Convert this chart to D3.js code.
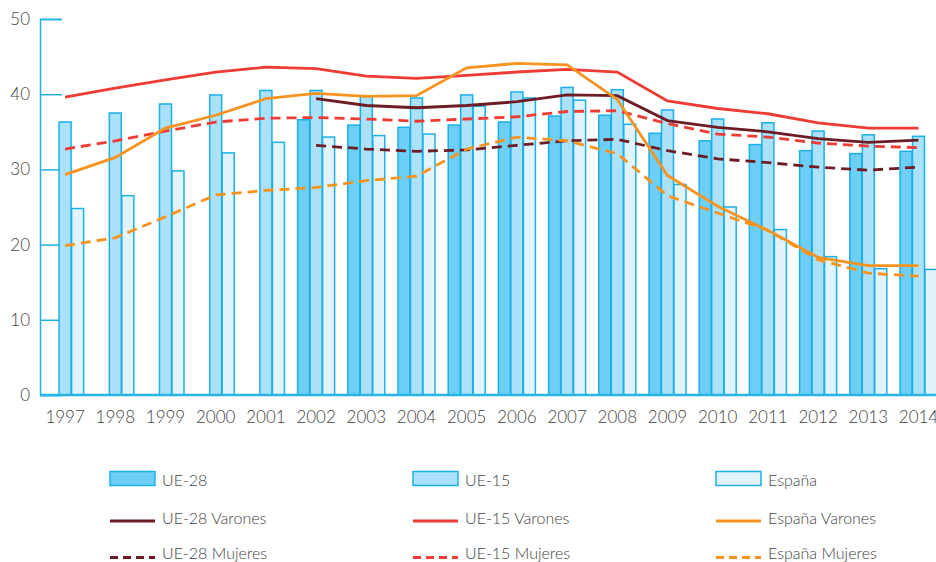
<!DOCTYPE html>
<html><head><meta charset="utf-8">
<script src="https://cdn.jsdelivr.net/npm/d3@7"></script>
<style>body{margin:0;background:#fff}svg{display:block}text{font-family:Lato,"Open Sans",sans-serif;fill:#444}</style>
</head><body><svg id="c" width="936" height="562"></svg>
<script>
const years = ["1997","1998","1999","2000","2001","2002","2003","2004","2005","2006","2007","2008","2009","2010","2011","2012","2013","2014"];
const barSeries = ["UE-28","UE-15","España"];
const ue28 = [null,null,null,null,null,36.6,35.9,35.6,35.9,36.3,37.1,37.2,34.8,33.8,33.3,32.5,32.1,32.4];
const ue15 = [36.3,37.5,38.7,39.9,40.5,40.5,39.8,39.5,39.9,40.3,40.9,40.6,37.9,36.7,36.2,35.1,34.6,34.4];
const espana = [24.8,26.5,29.8,32.2,33.6,34.3,34.5,34.7,38.4,39.5,39.2,36.0,28.0,25.0,22.0,18.4,16.8,16.7];
const ue28Varones = [null,null,null,null,null,39.4,38.5,38.2,38.5,39.0,39.9,39.8,36.5,35.6,35.0,34.1,33.6,33.9];
const ue15Varones = [39.6,40.8,41.9,42.95,43.6,43.4,42.4,42.1,42.5,42.95,43.3,42.95,39.1,38.1,37.4,36.2,35.5,35.5];
const espanaVarones = [29.3,31.6,35.5,37.2,39.4,40.1,39.7,39.8,43.5,44.1,43.9,39.3,29.2,25.1,21.9,18.3,17.2,17.2];
const ue28Mujeres = [null,null,null,null,null,33.2,32.7,32.4,32.6,33.2,33.8,34.0,32.5,31.4,30.9,30.3,29.9,30.3];
const ue15Mujeres = [32.7,33.8,35.1,36.3,36.8,36.9,36.7,36.4,36.7,37.0,37.7,37.8,36.1,34.7,34.3,33.5,33.1,32.9];
const espanaMujeres = [19.85,20.9,23.7,26.6,27.2,27.6,28.5,29.1,32.7,34.3,33.8,32.1,26.5,24.2,21.9,18.0,16.2,15.8];
const yTicks = [0,10,20,30,40,50];

const svg = d3.select("#c");
const step = 50.2, x0 = 40;
const x = d3.scaleBand().domain(years).range([x0, x0 + step*years.length]).padding(0);
const y = d3.scaleLinear().domain([0,50]).range([395,19]);
const xs = d3.scaleBand().domain(barSeries).range([-19, 19]).padding(0.04);

const barFill = {"UE-28":"#6dcff6","UE-15":"#abe1fa","España":"#e1f4fd"};
const barData = {"UE-28":ue28,"UE-15":ue15,"España":espana};
const stroke = "#1cb0e8";

// y axis
const yAxis = d3.axisRight(y).tickValues(yTicks).tickSize(22).tickFormat("");
const ga = svg.append("g").attr("transform",`translate(${x0},0)`).call(yAxis);
ga.select(".domain").attr("stroke",stroke).attr("stroke-width",1.5);
ga.selectAll(".tick line").attr("stroke",stroke).attr("stroke-width",1.5);
svg.append("g").selectAll("text").data(yTicks).join("text")
  .attr("x",30).attr("y",d=>y(d)+6).attr("text-anchor","end")
  .style("font-size","17px").style("font-weight","300").text(d=>d);

// bars
barSeries.forEach(s=>{
  svg.append("g").selectAll("rect").data(years.map((yr,i)=>({yr,v:barData[s][i]})).filter(d=>d.v!=null))
    .join("rect")
    .attr("x",d=>x(d.yr)+x.bandwidth()/2+xs(s))
    .attr("width",xs.bandwidth())
    .attr("y",d=>y(d.v)).attr("height",d=>y(0)-y(d.v))
    .attr("fill",barFill[s]).attr("stroke",stroke).attr("stroke-width",1.5);
});

// x axis line
svg.append("line").attr("x1",x0).attr("x2",936).attr("y1",y(0)).attr("y2",y(0))
  .attr("stroke","#29b4e8").attr("stroke-width",2.5);
// x labels
const xAxis = d3.axisBottom(x).tickSize(0).tickPadding(0);
const gx = svg.append("g").attr("transform",`translate(0,${y(0)})`).call(xAxis);
gx.select(".domain").remove();
gx.selectAll("text").attr("dy",null).attr("y",28).style("font-size","17px").style("font-weight","300")
  .style("font-family","Lato,'Open Sans',sans-serif").attr("fill","#444");

// lines
const lineSeries = [
  {name:"UE-28 Varones",data:ue28Varones,color:"#6d1c24",dash:null},
  {name:"UE-15 Varones",data:ue15Varones,color:"#ee3b33",dash:null},
  {name:"España Varones",data:espanaVarones,color:"#f7931e",dash:null},
  {name:"UE-28 Mujeres",data:ue28Mujeres,color:"#6d1c24",dash:"10,6"},
  {name:"UE-15 Mujeres",data:ue15Mujeres,color:"#ee3b33",dash:"10,6"},
  {name:"España Mujeres",data:espanaMujeres,color:"#f7931e",dash:"10,6"}
];
const line = d3.line().defined(d=>d.v!=null).x(d=>x(d.yr)+x.bandwidth()/2).y(d=>y(d.v));
[3,4,5,0,1,2].forEach(k=>{
  const s = lineSeries[k];
  svg.append("path").datum(years.map((yr,i)=>({yr,v:s.data[i]})))
    .attr("d",line).attr("fill","none").attr("stroke",s.color).attr("stroke-width",2.8)
    .attr("stroke-dasharray",s.dash);
});

// legend
const colX = [110,413,716];
const lg = svg.append("g");
barSeries.forEach((s,i)=>{
  lg.append("rect").attr("x",colX[i]).attr("y",471.5).attr("width",45).attr("height",14)
    .attr("fill",barFill[s]).attr("stroke",stroke).attr("stroke-width",1.5);
  lg.append("text").attr("x",colX[i]+52).attr("y",486).style("font-size","16px").style("font-weight","300").text(s);
});
lineSeries.forEach((s,k)=>{
  const i = k%3, row = Math.floor(k/3);
  const yy = row===0 ? 521 : 557.5;
  lg.append("line").attr("x1",colX[i]).attr("x2",colX[i]+45).attr("y1",yy).attr("y2",yy)
    .attr("stroke",s.color).attr("stroke-width",3).attr("stroke-dasharray",s.dash?"8,5":null);
  lg.append("text").attr("x",colX[i]+52).attr("y",row===0?524:559).style("font-size","16px").style("font-weight","300").text(s.name);
});
</script></body></html>
